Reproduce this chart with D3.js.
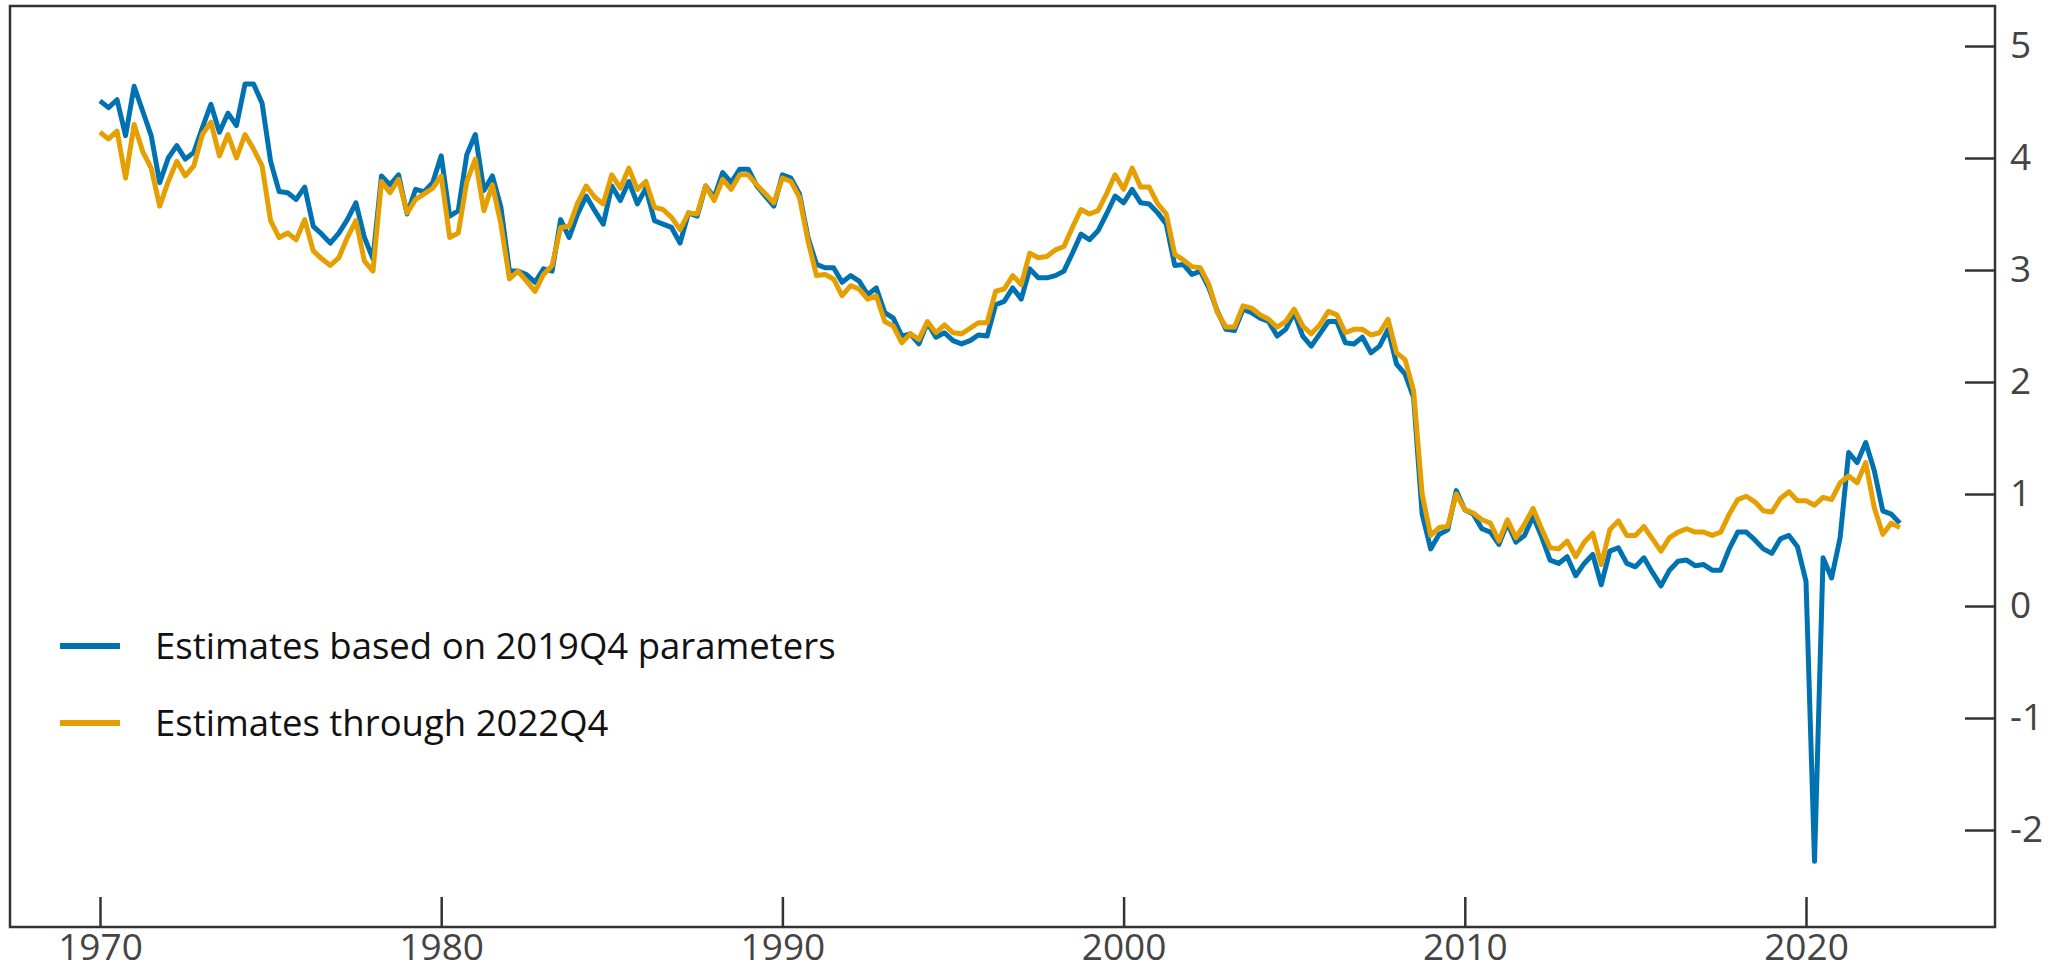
<!DOCTYPE html>
<html>
<head>
<meta charset="utf-8">
<script src="https://cdn.jsdelivr.net/npm/d3@7"></script>
<style>
  body { margin: 0; background: #fff; }
  svg { display: block; }
</style>
</head>
<body>
<div id="chart"></div>
<script>
// quarterly series, 1970Q1 .. 2022Q4 (one row per year)
const startYear = 1970;

const based2019Q4 = [
  4.51, 4.45, 4.52, 4.20,  4.64, 4.42, 4.20, 3.78,  4.00, 4.11, 3.99, 4.05,
  4.27, 4.48, 4.23, 4.40,  4.29, 4.66, 4.66, 4.49,  3.97, 3.70, 3.69, 3.63,
  3.74, 3.39, 3.32, 3.24,  3.33, 3.45, 3.60, 3.29,  3.10, 3.84, 3.76, 3.85,
  3.50, 3.72, 3.70, 3.78,  4.02, 3.48, 3.53, 4.03,  4.21, 3.71, 3.84, 3.56,
  2.99, 2.99, 2.96, 2.89,  3.01, 2.99, 3.45, 3.29,  3.50, 3.66, 3.53, 3.41,
  3.75, 3.62, 3.79, 3.59,  3.73, 3.44, 3.41, 3.38,  3.24, 3.51, 3.48, 3.75,
  3.65, 3.87, 3.78, 3.90,  3.90, 3.75, 3.66, 3.57,  3.85, 3.82, 3.68, 3.29,
  3.05, 3.02, 3.02, 2.89,  2.95, 2.90, 2.78, 2.84,  2.62, 2.57, 2.41, 2.43,
  2.34, 2.53, 2.40, 2.44,  2.37, 2.34, 2.37, 2.42,  2.41, 2.69, 2.72, 2.84,
  2.74, 3.01, 2.93, 2.93,  2.95, 2.99, 3.15, 3.32,  3.27, 3.35, 3.50, 3.66,
  3.60, 3.72, 3.60, 3.59,  3.51, 3.41, 3.04, 3.05,  2.96, 2.99, 2.84, 2.63,
  2.47, 2.46, 2.65, 2.62,  2.57, 2.54, 2.41, 2.47,  2.62, 2.41, 2.32, 2.43,
  2.54, 2.54, 2.35, 2.34,  2.40, 2.26, 2.32, 2.47,  2.16, 2.07, 1.86, 0.82,
  0.51, 0.64, 0.68, 1.03,  0.86, 0.82, 0.69, 0.66,  0.55, 0.74, 0.57, 0.63,
  0.80, 0.62, 0.41, 0.38,  0.44, 0.27, 0.38, 0.46,  0.19, 0.49, 0.52, 0.38,
  0.35, 0.43, 0.30, 0.18,  0.32, 0.40, 0.41, 0.36,  0.37, 0.32, 0.32, 0.51,
  0.66, 0.66, 0.59, 0.51,  0.47, 0.60, 0.63, 0.53,  0.22, -2.28, 0.43, 0.25,
  0.61, 1.37, 1.28, 1.46,  1.21, 0.85, 0.82, 0.74
];

const through2022Q4 = [
  4.23, 4.17, 4.24, 3.82,  4.30, 4.06, 3.91, 3.57,  3.79, 3.97, 3.84, 3.93,
  4.21, 4.32, 4.02, 4.21,  4.00, 4.21, 4.08, 3.93,  3.44, 3.29, 3.33, 3.27,
  3.45, 3.17, 3.10, 3.04,  3.11, 3.29, 3.44, 3.08,  2.99, 3.79, 3.69, 3.81,
  3.51, 3.63, 3.68, 3.73,  3.84, 3.29, 3.33, 3.79,  3.99, 3.53, 3.76, 3.41,
  2.92, 2.99, 2.90, 2.81,  2.96, 3.04, 3.38, 3.39,  3.60, 3.75, 3.65, 3.59,
  3.85, 3.73, 3.91, 3.72,  3.79, 3.56, 3.54, 3.47,  3.36, 3.51, 3.50, 3.75,
  3.62, 3.81, 3.72, 3.85,  3.85, 3.76, 3.68, 3.60,  3.82, 3.79, 3.65, 3.26,
  2.95, 2.96, 2.92, 2.77,  2.86, 2.83, 2.74, 2.77,  2.54, 2.50, 2.35, 2.43,
  2.38, 2.54, 2.44, 2.51,  2.44, 2.43, 2.48, 2.53,  2.53, 2.81, 2.83, 2.95,
  2.87, 3.15, 3.11, 3.12,  3.18, 3.21, 3.38, 3.54,  3.50, 3.53, 3.68, 3.85,
  3.72, 3.91, 3.74, 3.74,  3.59, 3.50, 3.14, 3.09,  3.03, 3.02, 2.87, 2.62,
  2.49, 2.49, 2.68, 2.66,  2.60, 2.56, 2.49, 2.54,  2.65, 2.50, 2.43, 2.51,
  2.63, 2.60, 2.44, 2.47,  2.47, 2.42, 2.44, 2.56,  2.26, 2.20, 1.92, 1.00,
  0.63, 0.70, 0.71, 1.00,  0.86, 0.83, 0.77, 0.74,  0.58, 0.77, 0.61, 0.73,
  0.87, 0.69, 0.52, 0.51,  0.58, 0.44, 0.57, 0.65,  0.37, 0.68, 0.76, 0.63,
  0.63, 0.71, 0.60, 0.49,  0.61, 0.66, 0.69, 0.66,  0.66, 0.63, 0.66, 0.82,
  0.95, 0.98, 0.93, 0.85,  0.84, 0.96, 1.02, 0.94,  0.94, 0.90, 0.97, 0.95,
  1.10, 1.16, 1.10, 1.28,  0.88, 0.64, 0.74, 0.70
];

const xTicks = [1970, 1980, 1990, 2000, 2010, 2020];
const yTicks = [-2, -1, 0, 1, 2, 3, 4, 5];
const seriesNames = ["Estimates based on 2019Q4 parameters", "Estimates through 2022Q4"];
const seriesColors = ["#0072B2", "#E69F00"];

const width = 2059, height = 976;
const box = { left: 10, top: 6, right: 1995, bottom: 927 };
const font = "'Open Sans', 'Noto Sans', sans-serif";
const axisColor = "#333333";

const svg = d3.select("#chart")
  .append("svg")
  .attr("width", width)
  .attr("height", height);

const x = d3.scaleLinear().domain([1970, 2020]).range([100, 1806]);
const y = d3.scaleLinear().domain([-2, 5]).range([830, 46]);

// Frame around the plot
svg.append("rect")
  .attr("x", box.left)
  .attr("y", box.top)
  .attr("width", box.right - box.left)
  .attr("height", box.bottom - box.top)
  .attr("fill", "none")
  .attr("stroke", axisColor)
  .attr("stroke-width", 2.5);

// X axis, ticks pointing inward
const xAxis = svg.append("g")
  .attr("transform", `translate(0,${box.bottom})`)
  .call(
    d3.axisBottom(x)
      .tickValues(xTicks)
      .tickFormat(d3.format("d"))
      .tickSizeInner(-30)
      .tickSizeOuter(0)
      .tickPadding(7)
  );

// Y axis on the right, ticks pointing inward
const yAxis = svg.append("g")
  .attr("transform", `translate(${box.right},0)`)
  .call(
    d3.axisRight(y)
      .tickValues(yTicks)
      .tickFormat((d) => String(d))
      .tickSizeInner(-30)
      .tickSizeOuter(0)
      .tickPadding(15)
  );

[xAxis, yAxis].forEach((g) => {
  g.select(".domain").remove();
  g.selectAll(".tick line").attr("stroke", axisColor).attr("stroke-width", 2.5);
  g.selectAll(".tick text")
    .attr("fill", "#444444")
    .style("font-family", font)
    .style("font-size", "37px");
});

// Series lines
const line = d3.line()
  .x((d, i) => x(startYear + i / 4))
  .y((d) => y(d));

[based2019Q4, through2022Q4].forEach((series, k) => {
  svg.append("path")
    .datum(series)
    .attr("fill", "none")
    .attr("stroke", seriesColors[k])
    .attr("stroke-width", 5)
    .attr("stroke-linejoin", "round")
    .attr("d", line);
});

// Legend
const legend = svg.append("g").attr("transform", "translate(60,646)");

seriesNames.forEach((name, k) => {
  const row = legend.append("g").attr("transform", `translate(0,${k * 77})`);
  row.append("line")
    .attr("x1", 0)
    .attr("x2", 60)
    .attr("stroke", seriesColors[k])
    .attr("stroke-width", 6);
  row.append("text")
    .attr("x", 95)
    .attr("dy", "0.35em")
    .attr("fill", "#111111")
    .style("font-family", font)
    .style("font-size", "36.5px")
    .text(name);
});
</script>
</body>
</html>
